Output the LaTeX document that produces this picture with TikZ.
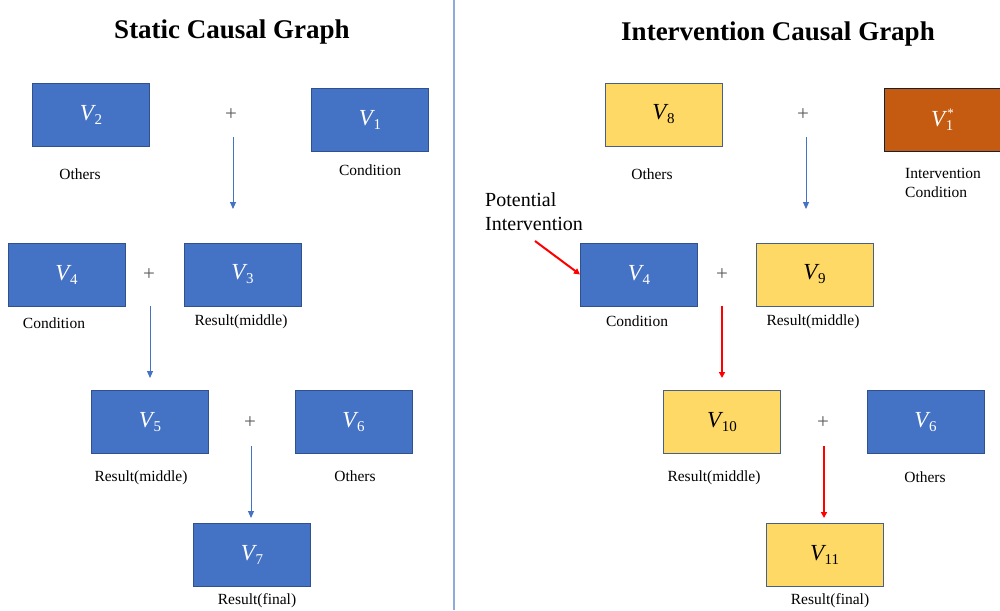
\documentclass[tikz,border=0pt]{standalone}
\usepackage{fontspec}
\setmainfont{Liberation Serif}
\usetikzlibrary{arrows.meta}
\definecolor{cblue}{HTML}{4472C4}
\definecolor{cborder}{HTML}{2F528F}
\definecolor{cyellow}{HTML}{FFD966}
\definecolor{corange}{HTML}{C55A11}
\definecolor{cplus}{HTML}{595959}
\definecolor{cred}{HTML}{FF0000}
\definecolor{cdiv}{HTML}{8FAADC}
\newcommand\vlab[1]{{\fontsize{23}{26}\selectfont\itshape V}\kern0.5pt\raisebox{-4pt}{\fontsize{15}{18}\selectfont #1}}
\newcommand\vstar[1]{{\fontsize{23}{26}\selectfont\itshape V}\kern0.5pt\raisebox{-4pt}{\fontsize{15}{18}\selectfont #1}\kern-6pt\raisebox{9pt}{\fontsize{13}{15}\selectfont *}}
\tikzset{
  vbox/.style={draw=cborder, line width=1pt, minimum width=117pt, minimum height=63pt, inner sep=0pt},
  bluebox/.style={vbox, fill=cblue, text=white},
  yellowbox/.style={vbox, fill=cyellow, text=black, draw=cborder!70!gray},
  orangebox/.style={vbox, fill=corange, text=white, draw=cborder!40!black},
  lbl/.style={font=\fontsize{15.5}{19}\selectfont, inner sep=0pt, align=left},
  plussign/.style={text=cplus, font=\fontsize{21}{22}\selectfont, inner sep=0pt},
  ttl/.style={font=\fontsize{27}{32}\selectfont\bfseries, inner sep=0pt},
  bluearrow/.style={draw=cblue, line width=1pt, -{Triangle[length=7pt,width=6pt]}},
  redarrow/.style={draw=cred, line width=2pt, -{Triangle[length=6pt,width=6pt]}}
}
\begin{document}
\begin{tikzpicture}[x=1pt,y=-1pt]
\useasboundingbox (0,0) rectangle (1000,610);
\clip (0,0) rectangle (1000,610);
\fill[white] (0,0) rectangle (1000,610);
% divider
\coordinate (dtop) at (454,0);
\coordinate (dbot) at (454,610);
\draw[cdiv, line width=1.2pt] (dtop) -- (dbot);

% ---------- left: Static Causal Graph ----------
\node[ttl] (t1) at (232,32.5) {Static Causal Graph};
\node[bluebox] (v2) at (91,114.5) {\vlab{2}};
\node[bluebox] (v1) at (370,120) {\vlab{1}};
\node[plussign] (p1) at (231,115) {+};
\node[lbl] (l2) at (80,174) {Others};
\node[lbl] (l1) at (370,170) {Condition};
\coordinate (a1s) at (233,137);
\coordinate (a1e) at (233,209);
\draw[bluearrow] (a1s) -- (a1e);

\node[bluebox] (v4) at (66.5,274.5) {\vlab{4}};
\node[bluebox] (v3) at (242.5,274.5) {\vlab{3}};
\node[plussign] (p2) at (149,275) {+};
\node[lbl] (l4) at (54,323) {Condition};
\node[lbl] (l3) at (241,322) {Result(middle)};
\coordinate (a2s) at (150,306);
\coordinate (a2e) at (150,378);
\draw[bluearrow] (a2s) -- (a2e);

\node[bluebox] (v5) at (150,422) {\vlab{5}};
\node[bluebox] (v6) at (353.5,422) {\vlab{6}};
\node[plussign] (p3) at (250,423) {+};
\node[lbl] (l5) at (141,478) {Result(middle)};
\node[lbl] (l6) at (355,476) {Others};
\coordinate (a3s) at (251,446);
\coordinate (a3e) at (251,518);
\draw[bluearrow] (a3s) -- (a3e);

\node[bluebox] (v7) at (252,555) {\vlab{7}};
\node[lbl] (l7) at (257,601) {Result(final)};

% ---------- right: Intervention Causal Graph ----------
\node[ttl] (t2) at (778,34) {Intervention Causal Graph};
\node[yellowbox] (v8) at (663.5,114.5) {\vlab{8}};
\node[orangebox] (v1s) at (942.5,120) {\vstar{1}};
\node[plussign] (p4) at (803,115) {+};
\node[lbl] (l8) at (652,174) {Others};
\node[lbl, anchor=north west] (l1s) at (905,168) {Intervention\\Condition};
\coordinate (b1s) at (806,137);
\coordinate (b1e) at (806,209);
\draw[bluearrow] (b1s) -- (b1e);

\node[lbl, anchor=north west, font=\fontsize{20}{24.5}\selectfont] (pi) at (485,192) {Potential\\Intervention};
\node[bluebox] (v4r) at (639,274.5) {\vlab{4}};
\node[yellowbox] (v9) at (814.5,274.5) {\vlab{9}};
\node[plussign] (p5) at (722,275) {+};
\node[lbl] (l4r) at (637,321) {Condition};
\node[lbl] (l9) at (813,322) {Result(middle)};
\coordinate (pis) at (535,241);
\draw[redarrow] (pis) -- (v4r.west);
\coordinate (b2s) at (722,306);
\coordinate (b2e) at (722,378);
\draw[redarrow] (b2s) -- (b2e);

\node[yellowbox] (v10) at (722,422) {\vlab{10}};
\node[bluebox] (v6r) at (925.5,422) {\vlab{6}};
\node[plussign] (p6) at (823,423) {+};
\node[lbl] (l10) at (714,478) {Result(middle)};
\node[lbl] (l6r) at (925,477) {Others};
\coordinate (b3s) at (824,446);
\coordinate (b3e) at (824,518);
\draw[redarrow] (b3s) -- (b3e);

\node[yellowbox] (v11) at (824.5,555) {\vlab{11}};
\node[lbl] (l11) at (830,601) {Result(final)};
\end{tikzpicture}
\end{document}
